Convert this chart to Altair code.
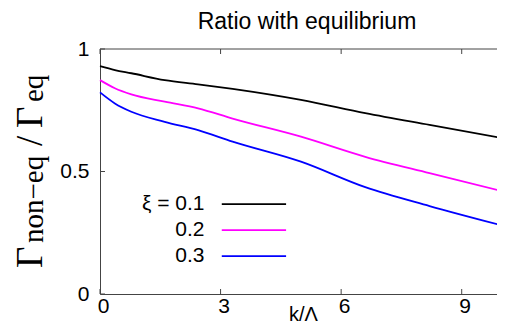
import altair as alt
import pandas as pd

# ---- data ----
k_vals = [0.0, 0.37, 0.78, 1.61, 2.44, 3.3, 5.0, 6.6, 8.2, 10.0]
xi_01 = [0.930, 0.914, 0.901, 0.873, 0.856, 0.837, 0.792, 0.738, 0.690, 0.637]
xi_02 = [0.873, 0.840, 0.815, 0.785, 0.758, 0.716, 0.642, 0.560, 0.493, 0.420]
xi_03 = [0.823, 0.778, 0.744, 0.703, 0.669, 0.622, 0.540, 0.436, 0.359, 0.280]

series = ["0.1", "0.2", "0.3"]
legend_labels = ["ξ = 0.1", "0.2", "0.3"]
colors = ["#000000", "#ff00ff", "#0000ff"]

x_ticks = [0, 3, 6, 9]
y_ticks = [0, 0.5, 1]

# legend layout (data units)
legend_y = [0.367, 0.261, 0.155]
legend_text_x = 2.6
legend_line_x = [3.03, 4.63]

rows = []
for s, vals in zip(series, [xi_01, xi_02, xi_03]):
    for kk, v in zip(k_vals, vals):
        rows.append({"k": kk, "ratio": v, "xi": s})
df = pd.DataFrame(rows)

leg = pd.DataFrame({
    "xi": series,
    "label": legend_labels,
    "ly": legend_y,
    "lx": [legend_text_x] * 3,
    "x1": [legend_line_x[0]] * 3,
    "x2": [legend_line_x[1]] * 3,
})

# the reference's frame runs past the right edge of the picture,
# so the visible plot area stops at the window edge
W, H = 397, 245
X_MAX = 9.878
FRAME = "#444444"
SANS = "Liberation Sans"
SERIF = "Liberation Serif"

xs = alt.Scale(domain=[0, X_MAX], nice=False, zero=False)
ys = alt.Scale(domain=[0, 1], nice=False)
cs = alt.Scale(domain=series, range=colors)

x_axis = alt.Axis(
    values=x_ticks, format="~g", title="k/Λ", grid=False, ticks=False,
    domain=True, domainColor=FRAME, labelFont=SANS, labelFontSize=21,
    labelColor="#000", labelPadding=1, labelFlush=False, labelOffset=3,
    titleFont=SANS, titleFontSize=20, titleFontWeight="normal", titleColor="#000",
    titleX=203, titleY=26, titleBaseline="alphabetic", titleAlign="center",
)
y_axis = alt.Axis(
    values=y_ticks, format="~g", title=None, grid=False, ticks=False,
    domain=True, domainColor=FRAME, labelFont=SANS, labelFontSize=21,
    labelColor="#000", labelPadding=11, labelFlush=False,
)

lines = alt.Chart(df).mark_line(strokeWidth=1.8, interpolate="monotone", clip=False).encode(
    x=alt.X("k:Q", scale=xs, axis=x_axis),
    y=alt.Y("ratio:Q", scale=ys, axis=y_axis),
    color=alt.Color("xi:N", scale=cs, legend=None),
    detail="xi:N",
)

# top frame line
top_line = alt.Chart(pd.DataFrame({"a": [0]})).mark_rule(color=FRAME, strokeWidth=1).encode(
    x=alt.value(0), x2=alt.value(W), y=alt.value(0))

# inward ticks
xt = pd.DataFrame({"t": x_ticks})
yt = pd.DataFrame({"t": y_ticks})
tick_style = dict(color=FRAME, strokeWidth=1)
top_ticks = alt.Chart(xt).mark_rule(**tick_style).encode(
    x=alt.X("t:Q", scale=xs), y=alt.value(0), y2=alt.value(5))
bot_ticks = alt.Chart(xt).mark_rule(**tick_style).encode(
    x=alt.X("t:Q", scale=xs), y=alt.value(H), y2=alt.value(H - 5))
left_ticks = alt.Chart(yt).mark_rule(**tick_style).encode(
    y=alt.Y("t:Q", scale=ys), x=alt.value(0), x2=alt.value(5))

# legend
leg_text = alt.Chart(leg).mark_text(
    align="right", baseline="middle", font=SANS, fontSize=21, color="#000"
).encode(x=alt.X("lx:Q", scale=xs), y=alt.Y("ly:Q", scale=ys), text="label:N")
leg_lines = alt.Chart(leg).mark_rule(strokeWidth=1.8).encode(
    x=alt.X("x1:Q", scale=xs), x2="x2:Q", y=alt.Y("ly:Q", scale=ys),
    color=alt.Color("xi:N", scale=cs, legend=None),
)


def text_piece(s, x, y, size, font, angle=0, align="left"):
    return alt.Chart(pd.DataFrame({"t": [s]})).mark_text(
        text=s, angle=angle, align=align, baseline="alphabetic",
        font=font, fontSize=size, color="#000",
    ).encode(x=alt.value(x), y=alt.value(y))


ytitle = [
    text_piece("Γ", -58, 219, 37, SERIF, 270),
    text_piece("non−eq", -57, 194, 29, SERIF, 270),
    text_piece("/", -58, 97, 37, SERIF, 270),
    text_piece("Γ", -58, 79, 37, SERIF, 270),
    text_piece("eq", -57, 53, 29, SERIF, 270),
]
title = text_piece("Ratio with equilibrium", 207, -20, 23, SANS, 0, "center")

chart = alt.layer(
    lines, top_line, top_ticks, bot_ticks, left_ticks, leg_lines, leg_text, title, *ytitle
).properties(
    width=W, height=H,
    autosize=alt.AutoSizeParams(type="none"),
    padding={"left": 92, "top": 41, "right": 0, "bottom": 30},
).configure_view(stroke=None)

chart.save("out.html", embed_options={"renderer": "svg", "actions": False})
